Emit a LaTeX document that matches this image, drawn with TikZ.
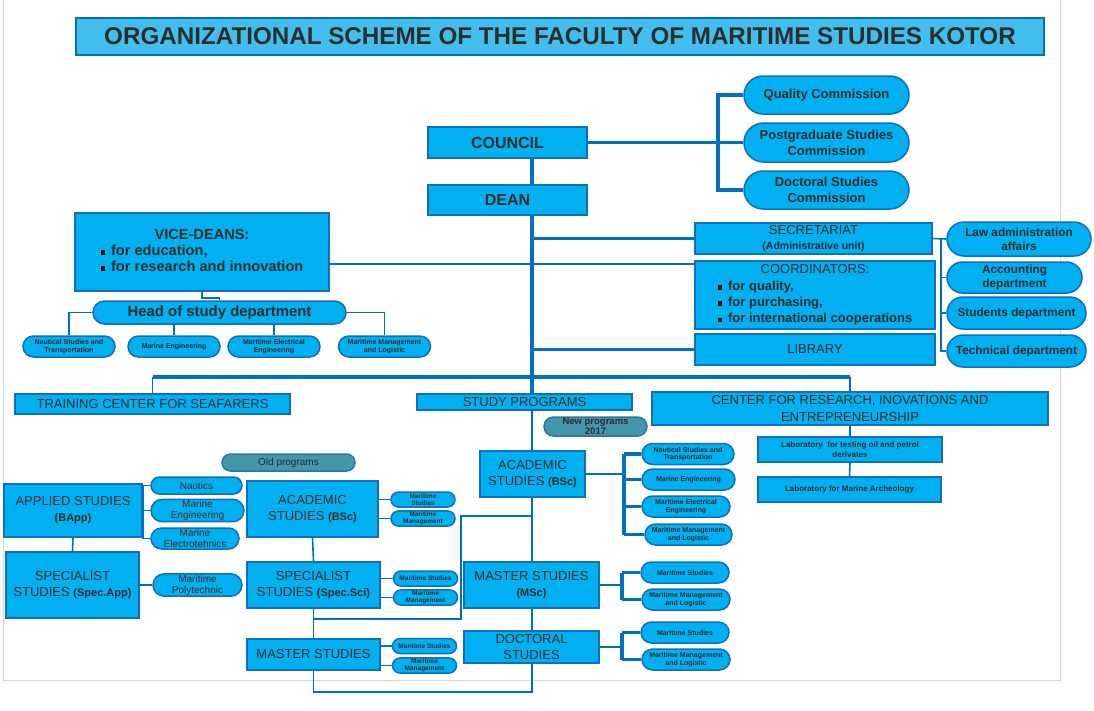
\documentclass[tikz,border=0pt]{standalone}
\usepackage{fontspec}
\setmainfont{Liberation Sans}
\usetikzlibrary{shapes.misc}

\definecolor{boxblue}{RGB}{0,176,240}
\definecolor{edgeblue}{RGB}{16,112,190}
\definecolor{lineblue}{RGB}{0,112,192}
\definecolor{titleblue}{RGB}{66,190,236}
\definecolor{tealbox}{RGB}{68,150,172}
\definecolor{tealedge}{RGB}{40,122,160}
\definecolor{txt}{RGB}{45,45,45}
\definecolor{framegray}{RGB}{215,215,215}

\newcommand{\fsz}[2]{\fontsize{#1}{#2}\selectfont}
\newcommand{\sqb}{{\color{black}\rule[0.5pt]{4.5pt}{4.5pt}}\hspace{6pt}}
\newcommand{\itm}[1]{\sqb\textbf{#1}}
\newcommand{\paren}[1]{{\fsz{11}{16}\bfseries #1}}

\tikzset{
  base/.style={draw=edgeblue, line width=1.5pt, fill=boxblue, text=txt, align=center, inner sep=1pt},
  box/.style={base, rectangle},
  pill/.style={base, rounded rectangle},
  oldpill/.style={pill, fill=tealbox, draw=tealedge},
  sz/.style 2 args={minimum width=#1pt, minimum height=#2pt},
  lnk/.style={draw=lineblue, line width=1.6pt},
  thk/.style={draw=lineblue, line width=3.6pt},
  fT/.style={font=\fsz{24.2}{27}\bfseries},
  fB/.style={font=\fsz{16}{18}\bfseries},
  fC/.style={font=\fsz{13}{16}\bfseries},
  fV/.style={font=\fsz{14.6}{16}\bfseries},
  fK/.style={font=\fsz{13}{16.4}},
  fH/.style={font=\fsz{14.9}{16}\bfseries},
  fM/.style={font=\fsz{13}{16}},
  fS/.style={font=\fsz{11.8}{14}\bfseries},
  fP/.style={font=\fsz{10}{11}},
  fQ/.style={font=\fsz{9.5}{10}\bfseries},
  fL/.style={font=\fsz{8}{10}\bfseries},
  fN/.style={font=\fsz{7}{7.5}\bfseries},
  fX/.style={font=\fsz{6.5}{7}\bfseries}
}

\begin{document}
\begin{tikzpicture}[x=1pt,y=-1pt]
\useasboundingbox (0,0) rectangle (1094,710);
\draw[framegray,line width=1pt] (3.5,0) -- (3.5,680) -- (1060,680) -- (1060,0);

\node[box,fill=titleblue,draw=lineblue,sz={968}{37},fT] (title) at (560,36.5)
  {ORGANIZATIONAL SCHEME OF THE FACULTY OF MARITIME STUDIES KOTOR};

% management
\node[box,sz={159}{31},fB] (council) at (507.5,142.5) {COUNCIL};
\node[box,sz={159}{30},fB] (dean) at (507.5,200) {DEAN};
\node[pill,sz={167}{38},fC] (qc) at (826.5,95) {Quality Commission};
\node[pill,sz={167}{39},fC] (pgc) at (826.5,142.5) {Postgraduate Studies\\Commission};
\node[pill,sz={167}{38},fC] (dsc) at (826.5,190) {Doctoral Studies\\Commission};

\node[box,sz={254}{78},fV] (vice) at (202,252) {\begin{tabular}{@{}l@{}}\multicolumn{1}{@{}c@{}}{VICE-DEANS:}\\
  \sqb for education,\\ \sqb for research and innovation\end{tabular}};
\node[pill,sz={255}{23},fH] (head) at (219.5,312.5) {Head of study department};
\foreach \n/\x/\t in {h1/69/{Nautical Studies and\\Transportation},h2/174/{Marine Engineering},
    h3/274/{Maritime Electrical\\Engineering},h4/384.5/{Maritime Management\\and Logistic}}
  \node[pill,sz={94}{21},fN] (\n) at (\x,346.5) {\t};

\node[box,sz={237}{31},fM] (secr) at (813.5,238.5) {SECRETARIAT\\[-1pt]{\fsz{10.5}{12}\bfseries (Administrative unit)}};
\node[box,sz={240}{66},fK] (coord) at (815,295) {\begin{tabular}{@{}l@{}}\multicolumn{1}{@{}c@{}}{COORDINATORS:}\\
  \itm{for quality,}\\ \itm{for purchasing,}\\ \itm{for international cooperations}\end{tabular}};
\node[box,sz={240}{31},fM] (lib) at (815,349.5) {LIBRARY};
\node[pill,sz={146}{34},fS] (law) at (1019,239) {Law administration\\affairs};
\node[pill,sz={137}{31},fS] (acc) at (1014.5,277.5) {Accounting\\department};
\node[pill,sz={141}{32},fS] (stu) at (1016.5,313) {Students department};
\node[pill,sz={141}{32},fS] (tech) at (1016.5,351) {Technical department};

% units
\node[box,sz={275}{20},fM] (train) at (152.5,404) {TRAINING CENTER FOR SEAFARERS};
\node[box,sz={215}{16},fM] (study) at (524.5,402) {STUDY PROGRAMS};
\node[box,sz={396}{33},fM] (center) at (850,408.5) {CENTER FOR RESEARCH, INOVATIONS AND\\[1pt]ENTREPRENEURSHIP};
\node[box,sz={184}{25},fL] (lab1) at (850,449.5) {Laboratory\ \ for testing oil and petrol\\derivates};
\node[box,sz={183}{25},fL] (lab2) at (849.5,489.5) {Laboratory for Marine Archeology};
\node[oldpill,sz={105}{19},fQ] (newp) at (595.5,426.5) {New programs\\2017};
\node[oldpill,sz={135}{17},fP] (oldp) at (288.5,462.5) {Old programs};

% new programs
\node[box,sz={105}{46},fM] (acn) at (532.5,474) {ACADEMIC\\STUDIES \paren{(BSc)}};
\node[box,sz={135}{46},fM] (msc) at (531.5,585) {MASTER STUDIES\\\paren{(MSc)}};
\node[box,sz={135}{32},fM] (doc) at (531.5,647) {DOCTORAL\\STUDIES};
\foreach \n/\x/\y/\w/\t in {n1/688/454/94/{Nautical Studies and\\Transportation},n2/688.5/479.5/95/{Marine Engineering},
    n3/686/506.5/90/{Maritime Electrical\\Engineering},n4/688.5/534.5/89/{Maritime Management\\and Logistic},
    m1/685/572.5/90/{Maritime Studies},m2/686/599.5/90/{Maritime Management\\and Logistic},
    d1/685/632.5/90/{Maritime Studies},d2/686/659.5/90/{Maritime Management\\and Logistic}}
  \node[pill,sz={\w}{21},fN] (\n) at (\x,\y) {\t};

% old programs
\node[box,sz={138}{53},fM] (app) at (73,510.5) {APPLIED STUDIES\\\paren{(BApp)}};
\node[box,sz={133}{66},fM] (spa) at (72.5,585) {SPECIALIST\\STUDIES \paren{(Spec.App)}};
\node[pill,sz={93}{17},fP] (naut) at (196.5,485.5) {Nautics};
\node[pill,sz={95}{21},fP] (meng) at (197.5,510.5) {Marine\\Engineering};
\node[pill,sz={90}{21},fP] (mel) at (195,538.5) {Marine\\Electrotehnics};
\node[pill,sz={91}{22},fP] (poly) at (197.5,585) {Maritime\\Polytechnic};
\node[box,sz={131}{56},fM] (acs) at (312.5,509) {ACADEMIC\\STUDIES \paren{(BSc)}};
\node[box,sz={133}{46},fM] (sps) at (313.5,585) {SPECIALIST\\STUDIES \paren{(Spec.Sci)}};
\node[box,sz={133}{31},fM] (mso) at (313.5,654.5) {MASTER STUDIES};
\foreach \n/\x/\y/\t in {as1/423/499.5/{Maritime\\Studies},as2/423/518.5/{Maritime\\Management},
    ss1/425.5/578.5/{Maritime Studies},ss2/425.5/597.5/{Maritime\\Management},
    ms1/424.5/646/{Maritime Studies},ms2/424.5/665.5/{Maritime\\Management}}
  \node[pill,sz={66}{15},fX] (\n) at (\x,\y) {\t};

% connectors
\coordinate (tr) at (532,0);
\coordinate (cb) at (718,0);
\coordinate (vc) at (0,264);
\coordinate (hb) at (0,377);
\coordinate (sb) at (941,0);
\coordinate (bb) at (0,692);
\coordinate (k1) at (461,619);
\coordinate (k2) at (532,516);
\coordinate (nb) at (624,0);
\coordinate (mb) at (622,0);

\draw[thk] (council.south -| tr) -- (dean.north -| tr);
\draw[thk] (council.east) -- (pgc.west);
\draw[thk] (qc.west) -- (qc.west -| cb) -- (dsc.west -| cb) -- (dsc.west);
\draw[thk] (dean.south -| tr) -- (study.north -| tr);
\draw[thk] (secr.west -| tr) -- (secr.west);
\draw[thk] (lib.west -| tr) -- (lib.west);
\draw[lnk] (vice.east |- vc) -- (coord.west |- vc);
\draw[thk] (train.north |- hb) -- (center.north |- hb);
\draw[lnk] (train.north |- hb) -- (train.north);
\draw[lnk] (center.north |- hb) -- (center.north);
\draw[lnk] (center.south) -- (lab1.north);
\draw[lnk] (lab1.south) -- (lab2.north);

\draw[lnk] (vice.south) -- ++(0,6) -| (head.north);
\draw[lnk] (head.west) -| (h1.north);
\draw[lnk] (head.east) -| (h4.north);
\foreach \n in {h2,h3} \draw[lnk] (head.south -| \n.north) -- (\n.north);

\draw[lnk] (secr.east) -- (law.west);
\draw[lnk] (secr.east -| sb) |- (tech.west);
\foreach \n in {acc,stu} \draw[lnk] (\n.west -| sb) -- (\n.west);

\draw[lnk] (study.south -| tr) -- (acn.north -| tr);
\draw[lnk] (acn.south -| tr) -- (msc.north -| tr);
\draw[lnk] (msc.south -| tr) -- (doc.north -| tr);
\draw[lnk] (doc.south -| tr) |- (mso.south |- bb) -- (mso.south);
\draw[lnk] (sps.south |- k1) -- (k1) |- (k2);

\draw[lnk] (acn.east) -- (acn.east -| nb);
\draw[thk] (n1.west -| nb) -- (n4.west -| nb);
\foreach \n in {n1,n2,n3,n4} \draw[thk] (\n.west -| nb) -- (\n.west);
\draw[lnk] (msc.east) -- (msc.east -| mb);
\draw[thk] (m1.west -| mb) -- (m2.west -| mb);
\foreach \n in {m1,m2} \draw[thk] (\n.west -| mb) -- (\n.west);
\draw[lnk] (doc.east) -- (doc.east -| mb);
\draw[thk] (d1.west -| mb) -- (d2.west -| mb);
\foreach \n in {d1,d2} \draw[thk] (\n.west -| mb) -- (\n.west);

\draw[lnk] (app.south) -- (spa.north);
\draw[lnk] (app.east |- naut.west) -- (app.east |- mel.west);
\foreach \n in {naut,meng,mel} \draw[lnk] (app.east |- \n.west) -- (\n.west);
\draw[lnk] (spa.east |- poly.west) -- (poly.west);
\draw[lnk] (acs.south) -- (sps.north);
\draw[lnk] (sps.south) -- (mso.north);
\foreach \n in {as1,as2} \draw[lnk] (acs.east |- \n.west) -- (\n.west);
\foreach \n in {ss1,ss2} \draw[lnk] (sps.east |- \n.west) -- (\n.west);
\foreach \n in {ms1,ms2} \draw[lnk] (mso.east |- \n.west) -- (\n.west);

\end{tikzpicture}
\end{document}
